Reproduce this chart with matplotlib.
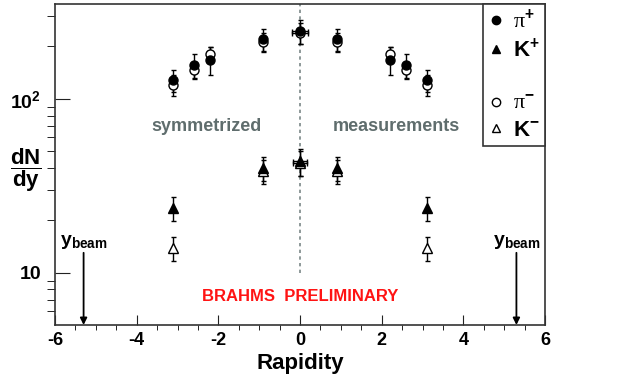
import numpy as np
import matplotlib.pyplot as plt
from matplotlib.lines import Line2D

plt.rcParams['font.family'] = ['Liberation Sans', 'DejaVu Sans']
plt.rcParams['font.weight'] = 'bold'
plt.rcParams['mathtext.fontset'] = 'custom'
plt.rcParams['mathtext.rm'] = 'Liberation Sans:bold'
plt.rcParams['mathtext.bf'] = 'Liberation Sans:bold'
plt.rcParams['mathtext.it'] = 'Liberation Sans:bold'

# pions
y_pi = [-3.1, -2.6, -2.2, -0.9, 0.0, 0.9, 2.2, 2.6, 3.1]
xerr_pi = [0, 0, 0, 0, 0.2, 0, 0, 0, 0]
pip = [128, 156, 167, 220, 244, 220, 167, 156, 128]
pip_err = [19, 24, 30, 33, 38, 33, 30, 24, 19]
pim = [120, 146, 180, 212, 240, 212, 180, 146, 120]
pim_err = [16, 16, 17, 26, 33, 26, 17, 16, 16]

# kaons
y_k = [-3.1, -0.9, 0.0, 0.9, 3.1]
xerr_k = [0, 0, 0.18, 0, 0]
kp = [23.4, 40, 43.6, 40, 23.4]
kp_err = [3.7, 6.5, 7.5, 6.5, 3.7]
km = [13.9, 38.2, 42.7, 38.2, 13.9]
km_err = [2.2, 6.0, 7.0, 6.0, 2.2]

y_beam = 5.3

fig = plt.figure(figsize=(6.23, 3.81), dpi=100)
ax = fig.add_axes([0.0883, 0.147, 0.7865, 0.8425])

ax.plot([0, 0], [10, 350], ls=(0, (2, 2)), color='#7a8888', lw=1.2, zorder=1)

eb = dict(ls='none', ecolor='black', elinewidth=1, capsize=1.8, capthick=1, ms=6.5, mec='black', mew=1)
ax.errorbar(y_pi, pim, yerr=pim_err, xerr=xerr_pi, marker='o', mfc='white', **eb)
ax.errorbar(y_pi, pip, yerr=pip_err, xerr=xerr_pi, marker='o', mfc='black', **eb)
ax.errorbar(y_k, km, yerr=km_err, xerr=xerr_k, marker='^', mfc='white', **eb)
ax.errorbar(y_k, kp, yerr=kp_err, xerr=xerr_k, marker='^', mfc='black', **eb)

ax.set_yscale('log')
ax.set_xlim(-6, 6)
ax.set_ylim(5, 350)
ax.set_xticks(np.arange(-6, 7, 2))
ax.set_xticks(np.arange(-6, 6.1, 0.5), minor=True)
ax.set_xticklabels([str(v) for v in range(-6, 7, 2)], fontsize=13, fontweight='bold')
ax.set_yticks([10, 100])
ax.set_yticklabels(['10', '10$^{2}$'], fontsize=14, fontweight='bold')
ax.set_yticks([6, 7, 8, 9, 20, 30, 40, 50, 60, 70, 80, 90, 200, 300], minor=True)
ax.yaxis.set_minor_formatter(plt.NullFormatter())
ax.tick_params(axis='both', direction='in', color='#222222')
ax.tick_params(axis='y', which='major', length=11, pad=10)
ax.tick_params(axis='y', which='minor', length=5.5)
ax.tick_params(axis='x', which='major', length=7, pad=5)
ax.tick_params(axis='x', which='minor', length=3.6)
for sp in ax.spines.values():
    sp.set_color('#333333')
    sp.set_linewidth(1.2)

ax.set_xlabel('Rapidity', fontsize=16, fontweight='bold', labelpad=3)
ax.set_ylabel(r'$\dfrac{\mathrm{dN}}{\mathrm{dy}}$', fontsize=16, rotation=0, va='center', ha='center')
ax.yaxis.set_label_coords(-0.06, 0.483)

ax.text(-2.3, 69, 'symmetrized', color='#5f6d6d', fontsize=13, fontweight='bold', ha='center', va='center')
ax.text(2.36, 69, 'measurements', color='#5f6d6d', fontsize=13, fontweight='bold', ha='center', va='center')
ax.text(0, 7.3, 'BRAHMS  PRELIMINARY', color='#ff1414', fontsize=12, fontweight='bold', ha='center', va='center')

for xb in (-y_beam, y_beam):
    ax.annotate('', xy=(xb, 5), xytext=(xb, 13),
                arrowprops=dict(arrowstyle='-|>', color='black', lw=1.3, mutation_scale=10,
                                shrinkA=0, shrinkB=0))
    ax.text(xb, 13.4, r'y$_{\mathrm{beam}}$', fontsize=14, fontweight='bold', ha='center', va='bottom')

handles = [
    Line2D([], [], ls='none', marker='o', mfc='black', mec='black', ms=6),
    Line2D([], [], ls='none', marker='^', mfc='black', mec='black', ms=6),
    Line2D([], [], ls='none', marker=''),
    Line2D([], [], ls='none', marker='o', mfc='white', mec='black', ms=6),
    Line2D([], [], ls='none', marker='^', mfc='white', mec='black', ms=6),
]
labels = ['π$^{+}$', 'K$^{+}$', ' ', 'π$^{-}$', 'K$^{-}$']
leg = ax.legend(handles, labels, loc='upper right', borderaxespad=0, fancybox=False,
                edgecolor='#333333', framealpha=1, fontsize=16, handlelength=0.7,
                handletextpad=0.4, labelspacing=0.25, borderpad=0.25)
leg.get_frame().set_linewidth(1.2)
for t in leg.get_texts():
    if t.get_text().startswith('π'):
        t.set_fontfamily(['Liberation Serif', 'DejaVu Serif'])
        t.set_fontweight('normal')

fig.savefig('out.png', dpi=100)
